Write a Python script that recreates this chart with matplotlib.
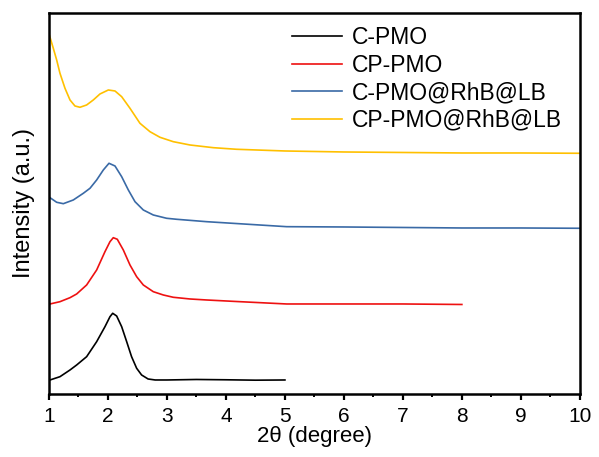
import matplotlib
matplotlib.use("Agg")
import matplotlib.pyplot as plt
from matplotlib.ticker import MultipleLocator

plt.rcParams['font.family'] = ['Liberation Sans', 'DejaVu Sans']

# Data (intensity in arbitrary units)
x_cpmo = [1.017, 1.186, 1.356, 1.469, 1.638, 1.808, 1.949, 2.034, 2.08, 2.147, 2.232, 2.317,
          2.40, 2.486, 2.57, 2.68, 2.80, 3.0, 3.5, 4.0, 4.5, 5.0]
y_cpmo = [14, 17.3, 24, 29, 37.3, 52.3, 67.3, 77.3, 80.7, 78, 67.3, 52.3,
          37.3, 25.7, 19, 15, 14, 14, 14.5, 14.2, 13.8, 14]

x_cppmo = [1.017, 1.186, 1.356, 1.469, 1.638, 1.808, 1.949, 2.034, 2.09, 2.158, 2.26, 2.373,
           2.486, 2.599, 2.768, 2.938, 3.107, 3.39, 3.672, 4.237, 5.03, 6.0, 7.0, 8.0]
y_cppmo = [90, 92.3, 96.3, 100, 109, 124, 142.3, 152.3, 156.3, 154.7, 144, 129,
           117.3, 109, 102.3, 99, 96.7, 95, 94, 92.3, 90, 90, 90, 89.5]

x_cpmo_rhb = [1.017, 1.13, 1.243, 1.412, 1.582, 1.695, 1.808, 1.921, 2.017, 2.119, 2.232, 2.345,
              2.458, 2.599, 2.768, 2.994, 3.164, 3.672, 5.03, 6.0, 7.0, 8.0, 9.0, 10.0]
y_cpmo_rhb = [196.3, 191.7, 190.3, 194, 200.7, 205.7, 214, 224, 230.7, 228, 217.3, 204,
              192.3, 184, 179, 175.7, 174.7, 172.3, 167.3, 167, 166.5, 166, 166, 165.7]

x_cppmo_rhb = [1.0, 1.073, 1.13, 1.186, 1.271, 1.356, 1.44, 1.525, 1.638, 1.751, 1.864, 2.006,
               2.119, 2.232, 2.373, 2.542, 2.712, 2.881, 3.107, 3.39, 3.785, 4.18, 5.0, 6.0,
               7.0, 8.0, 9.0, 10.0]
y_cppmo_rhb = [360, 345.7, 334, 320.7, 305.7, 294, 288, 286.7, 289, 294, 300, 304,
               303, 297.3, 285.7, 270.7, 262.3, 256.7, 252.3, 249, 246.3, 244.7, 243, 242,
               241.5, 241, 241, 240.7]

labels = ['C-PMO', 'CP-PMO', 'C-PMO@RhB@LB', 'CP-PMO@RhB@LB']
colors = ['#000000', '#ee1111', '#3a6aa6', '#ffc000']

fig = plt.figure(figsize=(5.99, 4.57), dpi=100)
ax = fig.add_axes([0.0818, 0.1379, 0.8862, 0.8337])

series = [(x_cpmo, y_cpmo), (x_cppmo, y_cppmo), (x_cpmo_rhb, y_cpmo_rhb), (x_cppmo_rhb, y_cppmo_rhb)]
for (xs, ys), lab, c in zip(series, labels, colors):
    ax.plot(xs, ys, color=c, lw=1.2, label=lab)

ax.set_xlim(1, 10)
ax.set_ylim(0, 381)
ax.set_yticks([])
ax.xaxis.set_major_locator(MultipleLocator(1))
ax.xaxis.set_minor_locator(MultipleLocator(0.5))
ax.tick_params(axis='x', which='major', direction='out', length=4.5, width=1.6, labelsize=15, pad=5)
ax.tick_params(axis='x', which='minor', direction='out', length=2.5, width=1.4)
for s in ax.spines.values():
    s.set_linewidth(1.8)

ax.set_xlabel('2θ (degree)', fontsize=16, labelpad=0)
ax.set_ylabel('Intensity (a.u.)', fontsize=17, labelpad=10)

leg = fig.legend(loc='upper left', frameon=False, fontsize=16.5, handlelength=2.2,
                 handletextpad=0.4, labelspacing=0.2, borderpad=0, borderaxespad=0,
                 bbox_to_anchor=(292 / 599, 1 - 26 / 457), bbox_transform=fig.transFigure)

fig.savefig('out.png', dpi=100)
